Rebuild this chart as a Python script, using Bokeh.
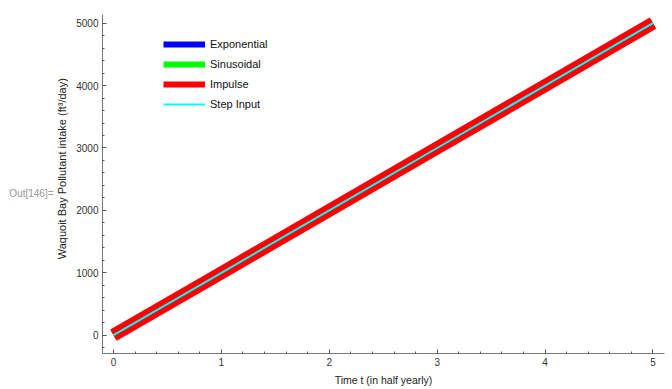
from bokeh.plotting import figure
from bokeh.models import (Range1d, SingleIntervalTicker, FixedTicker, Legend, LegendItem,
                          LinearAxis, ColumnDataSource)
from bokeh.embed import file_html
from bokeh.resources import INLINE

# Data
t = [0, 1, 2, 3, 4, 5]
exponential = [0, 1000, 2000, 3000, 4000, 5000]
sinusoidal = [0, 1000, 2000, 3000, 4000, 5000]
impulse = [0, 1000, 2000, 3000, 4000, 5000]
step_input = [0, 1000, 2000, 3000, 4000, 5000]
series_names = ["Exponential", "Sinusoidal", "Impulse", "Step Input"]
out_text = "Out[146]="

FONT = "Liberation Sans"

p = figure(width=672, height=389, output_backend="svg", toolbar_location=None,
           x_range=Range1d(-0.102, 5.107), y_range=Range1d(-293, 5139),
           min_border_left=102, min_border_right=8, min_border_top=14, min_border_bottom=36)
p.outline_line_color = None
p.xgrid.visible = False
p.ygrid.visible = False
p.background_fill_color = "white"
p.border_fill_color = "white"

p.xaxis.ticker = SingleIntervalTicker(interval=1, num_minor_ticks=5)
p.yaxis.ticker = SingleIntervalTicker(interval=1000, num_minor_ticks=5)

for ax in (p.xaxis, p.yaxis):
    ax.axis_line_color = "#777777"
    ax.axis_line_width = 1
    ax.major_tick_in = 4
    ax.major_tick_out = 0
    ax.minor_tick_in = 2
    ax.minor_tick_out = 0
    ax.major_tick_line_color = "#555555"
    ax.minor_tick_line_color = "#555555"
    ax.major_label_text_font = FONT
    ax.major_label_text_font_size = "10px"
    ax.major_label_text_color = "#333333"
    ax.major_label_standoff = 4
    ax.axis_label_text_font = FONT
    ax.axis_label_text_font_size = "10.5px"
    ax.axis_label_text_font_style = "normal"
    ax.axis_label_text_color = "#222222"
    ax.axis_label_standoff = 5

p.yaxis.axis_label_text_font_size = "11px"
p.xaxis.axis_label = "Time t (in half yearly)"
# leading no-break spaces nudge the centred label upward, as in the original
p.yaxis.axis_label = "\u00a0" * 10 + "Waquoit Bay Pollutant intake (ft³/day)"

src = ColumnDataSource(dict(t=t, e=exponential, s=sinusoidal, i=impulse, st=step_input))

p.line("t", "e", source=src, line_color="#0000ff", line_width=10)
p.line("t", "s", source=src, line_color="#00ff00", line_width=10)
p.line("t", "i", source=src, line_color="#ff0000", line_width=13)
p.line("t", "st", source=src, line_color="#00ffff", line_width=2)

# legend proxies (styled like the legend swatches), drawn far outside the visible range
proxy = ColumnDataSource(dict(x=[-100, -99], y=[-1e6, -1e6]))
r1 = p.line("x", "y", source=proxy, line_color="#0000ff", line_width=6)
r2 = p.line("x", "y", source=proxy, line_color="#00ff00", line_width=6)
r3 = p.line("x", "y", source=proxy, line_color="#ff0000", line_width=6)
r4 = p.line("x", "y", source=proxy, line_color="#00ffff", line_width=2)

legend = Legend(items=[LegendItem(label=n, renderers=[r]) for n, r in zip(series_names, [r1, r2, r3, r4])],
                location=(61, 239), orientation="vertical",
                glyph_width=42, glyph_height=20, label_height=20, spacing=0,
                label_standoff=5, padding=0, margin=0,
                border_line_color=None, background_fill_alpha=0,
                label_text_font=FONT, label_text_font_size="11px", label_text_color="#111111")
p.add_layout(legend, "center")

# "Out[146]=" cell label, as a bare outer axis with a single labelled tick
OUT_POS = 2274
out_axis = LinearAxis(ticker=FixedTicker(ticks=[OUT_POS]), major_label_overrides={OUT_POS: out_text},
                      axis_line_color=None, major_tick_line_color=None, minor_tick_line_color=None,
                      major_tick_in=0, major_tick_out=0, minor_tick_in=0, minor_tick_out=0,
                      major_label_standoff=0, major_label_text_font=FONT,
                      major_label_text_font_size="10px", major_label_text_color="#999999")
p.add_layout(out_axis, "left")

open("out.html", "w").write(file_html(p, INLINE))
